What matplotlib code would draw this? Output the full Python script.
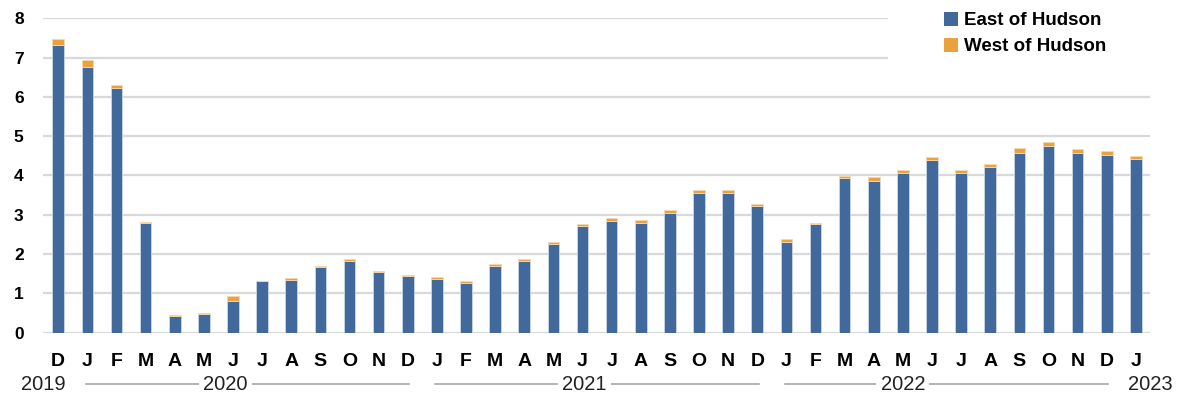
import numpy as np
import matplotlib
matplotlib.use("Agg")
import matplotlib.pyplot as plt
import matplotlib.transforms as mtransforms
from matplotlib.patches import Patch, Rectangle

plt.rcParams["font.family"] = ["Liberation Sans", "DejaVu Sans"]

# ---- data: monthly values, Dec 2019 .. Jan 2023 ----
months = ["D",
          "J", "F", "M", "A", "M", "J", "J", "A", "S", "O", "N", "D",
          "J", "F", "M", "A", "M", "J", "J", "A", "S", "O", "N", "D",
          "J", "F", "M", "A", "M", "J", "J", "A", "S", "O", "N", "D",
          "J"]
east = [7.32,
        6.77, 6.23, 2.80, 0.43, 0.48, 0.81, 1.30, 1.34, 1.67, 1.83, 1.53, 1.43,
        1.37, 1.27, 1.70, 1.83, 2.25, 2.70, 2.85, 2.80, 3.05, 3.56, 3.56, 3.21,
        2.31, 2.77, 3.94, 3.86, 4.07, 4.40, 4.07, 4.21, 4.56, 4.76, 4.56, 4.53,
        4.41]
west = [0.15,
        0.17, 0.08, 0.02, 0.02, 0.02, 0.12, 0.01, 0.04, 0.03, 0.04, 0.04, 0.04,
        0.04, 0.04, 0.05, 0.04, 0.06, 0.07, 0.06, 0.07, 0.07, 0.07, 0.07, 0.06,
        0.06, 0.02, 0.04, 0.09, 0.06, 0.07, 0.08, 0.08, 0.14, 0.09, 0.11, 0.09,
        0.08]
years = ["2019", "2020", "2021", "2022", "2023"]
year_first = [0, 1, 13, 25, 37]   # first bar of each year
year_last = [0, 12, 24, 36, 37]   # last bar of each year

BLUE = "#41699b"
ORANGE = "#e9a23d"
GRID = "#d9d9d9"

fig = plt.figure(figsize=(11.8, 3.94), dpi=100)
ax = fig.add_axes([0.0365, 0.156, 0.938, 0.7975])

x = np.arange(len(months))
ax.bar(x, east, width=0.4, color=BLUE, edgecolor="#c9d6e6", linewidth=0.6, zorder=3)
ax.bar(x, west, width=0.4, bottom=east, color=ORANGE, edgecolor="#f3d9b0",
       linewidth=0.6, zorder=3)

ax.set_xlim(-0.52, len(months) - 0.52)
ax.set_ylim(0, 8)
ax.set_yticks(range(0, 9))
ax.yaxis.grid(True, color=GRID, linewidth=1.6, zorder=0)
ax.set_axisbelow(True)
for s in ax.spines.values():
    s.set_visible(False)
ax.tick_params(axis="y", length=0, pad=14, labelsize=12.5)
ax.tick_params(axis="x", length=0, pad=15, labelsize=14)
ax.set_xticks(x)
ax.set_xticklabels(months, fontweight="bold")
for lbl in ax.get_yticklabels():
    lbl.set_fontweight("bold")

# year row underneath the month letters, with a rule spanning each year
trans = mtransforms.blended_transform_factory(ax.transData, ax.transAxes)
year_text_x = [-0.52, 5.74, 18.07, 29.0, 37.5]
for yr, a, b, tx in zip(years, year_first, year_last, year_text_x):
    if b > a:
        ax.plot([a - 0.05, b + 0.05], [-0.163, -0.163], color="#a0a0a0", lw=1.1,
                transform=trans, clip_on=False, zorder=1)
    ax.text(tx, -0.165, yr, transform=trans, ha="center", va="center",
            fontsize=14.5, color="#222222", zorder=2,
            bbox=dict(facecolor="white", edgecolor="none", pad=3))

# white block behind the legend hides the top gridlines on the right
ax.add_patch(Rectangle((0.763, 0.851), 0.3, 0.25, transform=ax.transAxes,
                       facecolor="white", edgecolor="none", clip_on=False, zorder=4))

handles = [Patch(facecolor=BLUE, label="East of Hudson"),
           Patch(facecolor=ORANGE, label="West of Hudson")]
leg = ax.legend(handles=handles, loc="upper left", bbox_to_anchor=(0.8, 1.068),
                frameon=False, handlelength=0.75, handleheight=0.75,
                handletextpad=0.35, labelspacing=0.45, borderpad=0.3,
                prop={"size": 13.5, "weight": "bold"})
leg.set_zorder(5)

fig.savefig("out.png", dpi=100)
